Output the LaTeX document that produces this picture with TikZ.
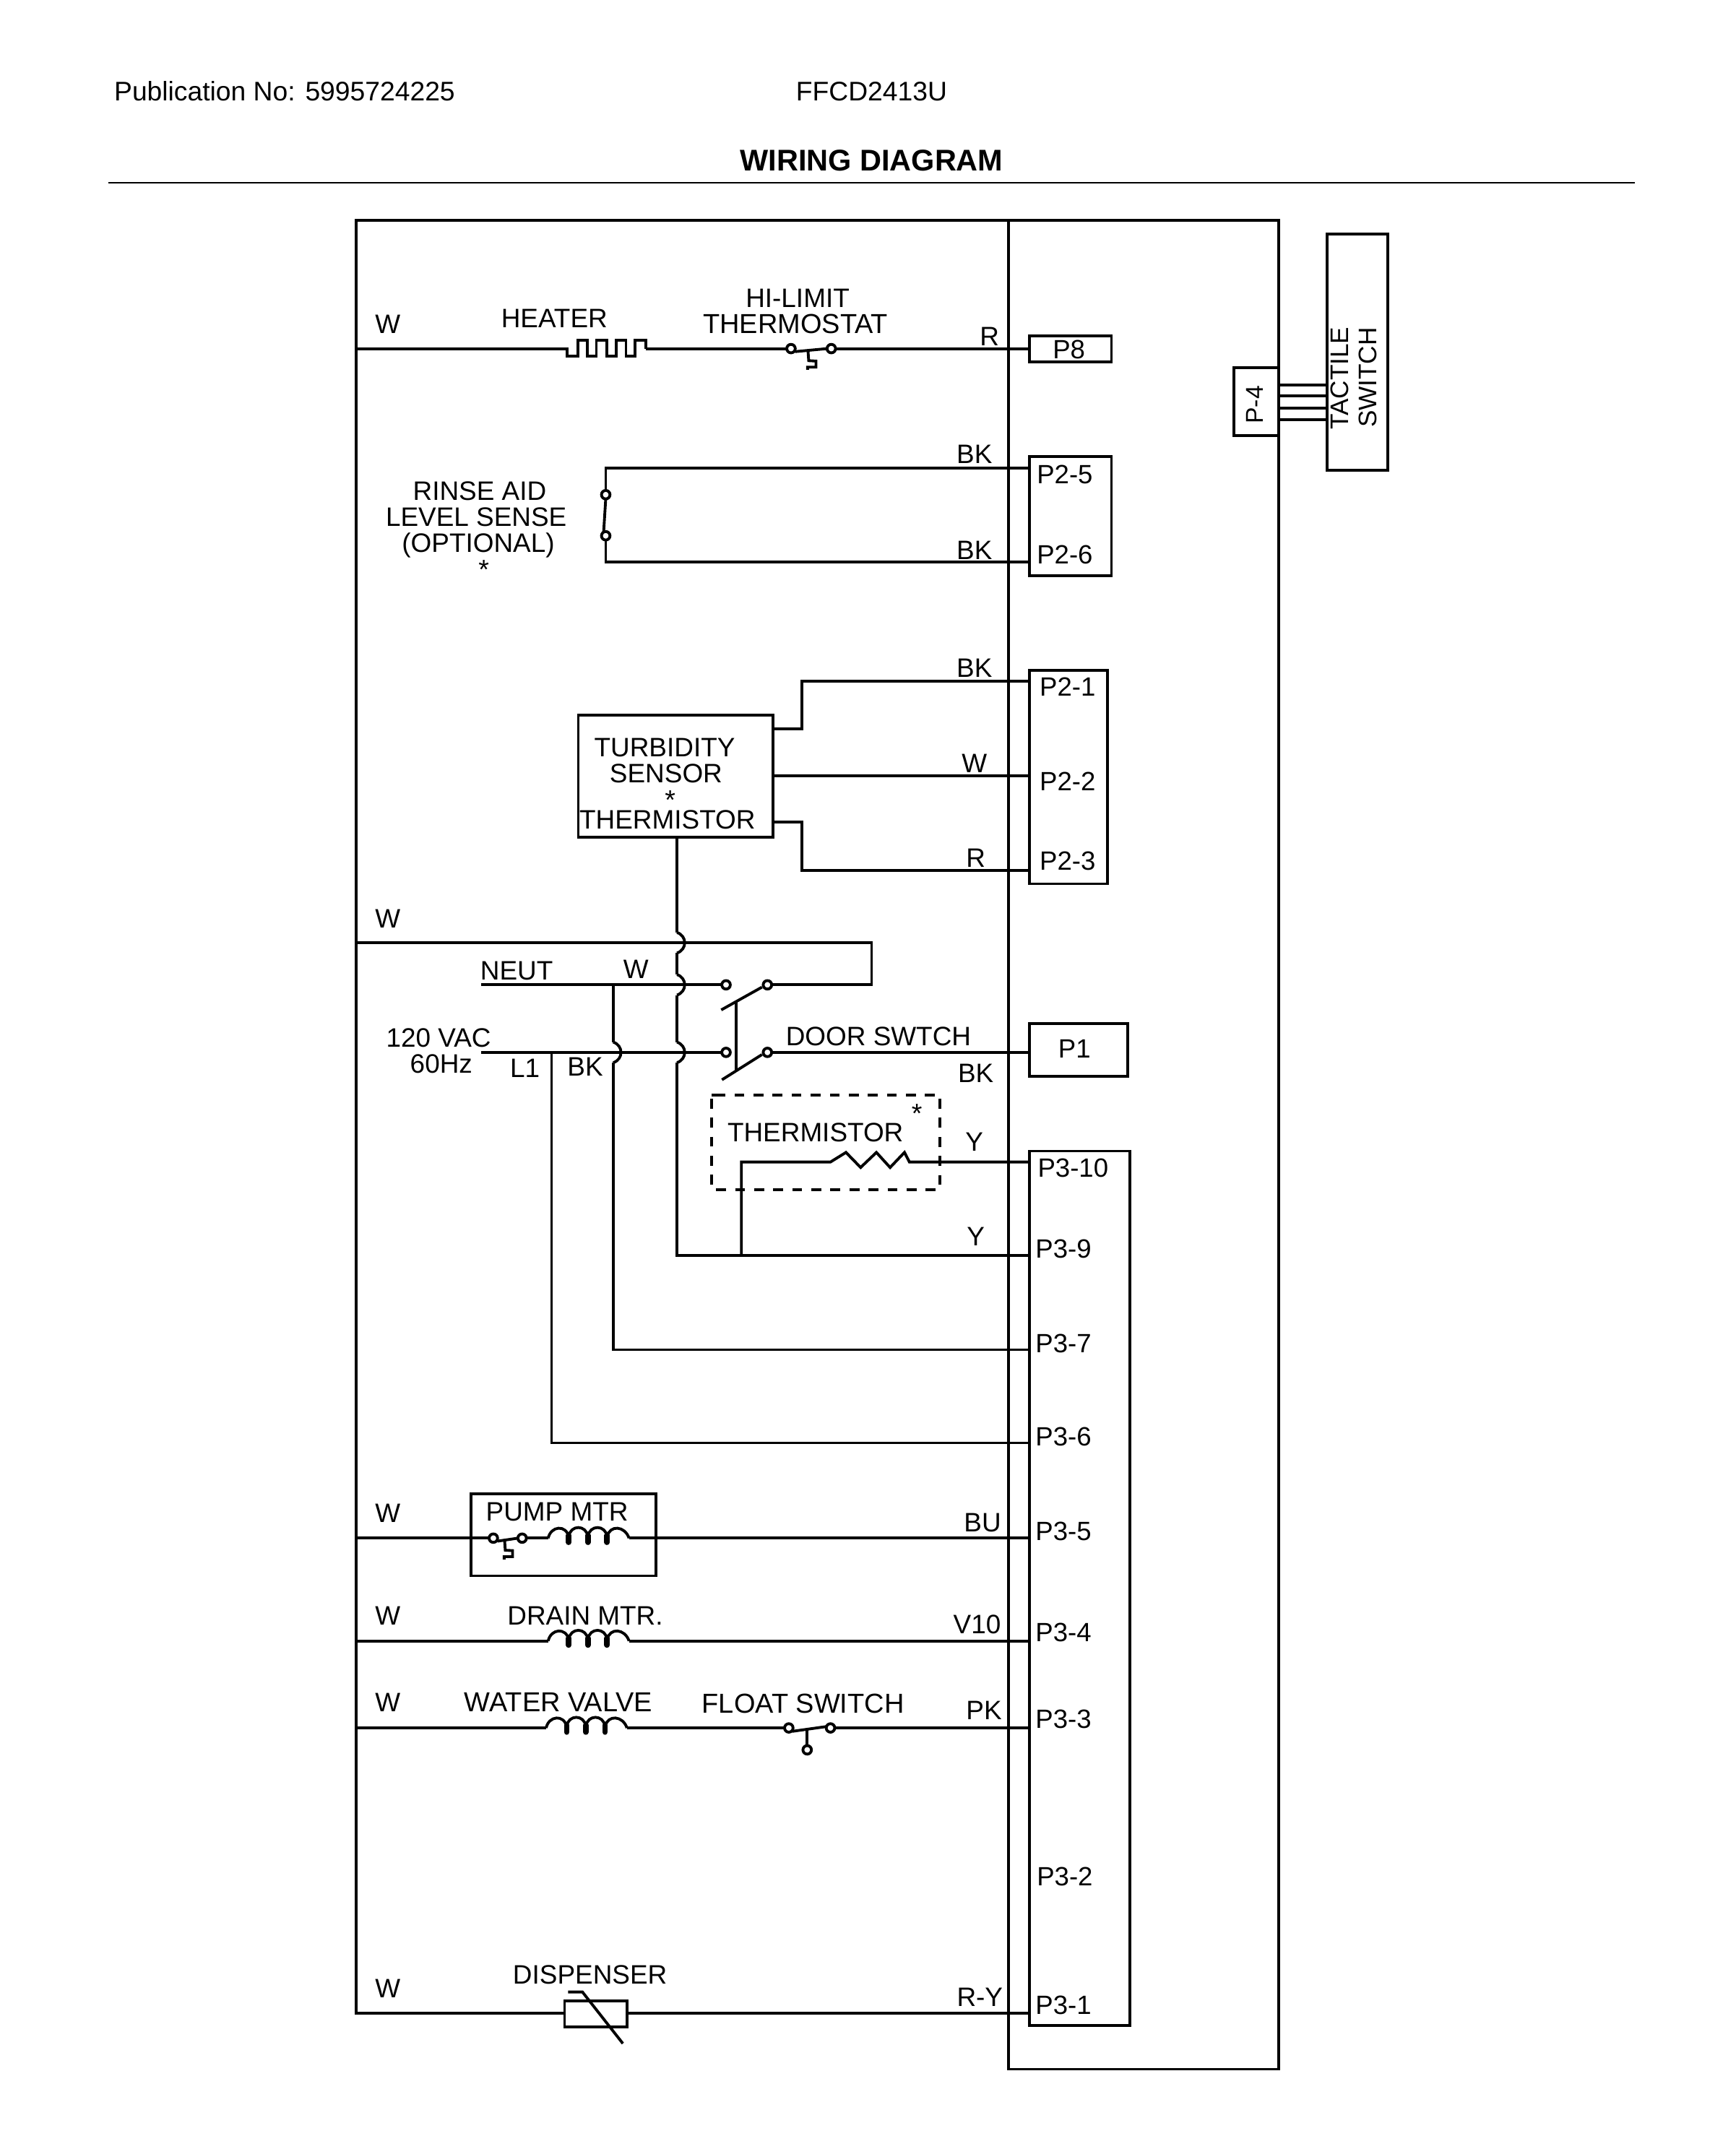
\documentclass[tikz,border=0pt]{standalone}
\usepackage{fontspec}
\setmainfont{Liberation Sans}
\usetikzlibrary{fit,calc}
\tikzset{
  wire/.style={line width=1.1pt},
  box/.style={draw,line width=1.1pt,inner sep=0pt,outer sep=0pt,fit={#1}},
  lbl/.style={inner sep=0pt,font=\fontsize{10.5}{12}\selectfont,text height=7.6pt,text depth=0pt},
  lblw/.style={lbl,font=\fontsize{10.8}{12}\selectfont},
  pin/.style={lbl,font=\fontsize{10.4}{12}\selectfont},
  star/.style={inner sep=0pt,font=\fontsize{10.7}{12}\selectfont,text height=3pt,text depth=0pt},
  term/.style={draw,fill=white,line width=1.1pt},
  pics/coil/.style={code={
    \coordinate (-a) at (0,0);
    \coordinate (-b) at (59,0);
    \draw[wire] (0,0) .. controls (2,-9) and (13,-10) .. (15,-1)
      .. controls (16,-10) and (28,-10) .. (29,-1)
      .. controls (30,-10) and (42,-10) .. (43,-1)
      .. controls (45,-10) and (56,-9) .. (59,0);
    \foreach \lx in {15,29,43}
      \draw[line width=2.2pt,line cap=round] (\lx,-2) -- (\lx,3);
  }},
  pics/tstat/.style={code={ % #1 gap between the two terminals
    \coordinate (-a) at (-3.3,0);
    \coordinate (-b) at (#1+3.3,0);
    \draw[wire] (3,2.2) -- (#1-3,0);
    \draw[wire] (#1/2-2.3,1.6) -- ++(0.5,7.2) -- ++(5.3,0.3) -- ++(0,4.4) -- ++(-6.1,0) -- ++(0,2);
    \draw[term] (0,0) circle[radius=3.1];
    \draw[term] (#1,0) circle[radius=3.1];
  }},
  pics/hop/.style={code={
    \coordinate (-a) at (0,-7.5);
    \coordinate (-b) at (0,7.5);
    \draw[wire] (0,-7.5) .. controls (7.5,-5) and (7.5,5) .. (0,7.5);
  }}
}
\begin{document}
\begin{tikzpicture}[x=0.01897cm,y=-0.01897cm]
\useasboundingbox (0,0) rectangle (1266.7,1568.3);

% header
\draw[line width=0.5pt] (79,133.4) -- (1193,133.4);
\node[lbl,anchor=west,font=\fontsize{10.6}{12}\selectfont] (pub) at (83,66.5) {Publication No: 5995724225};
\node[lbl,font=\fontsize{10.6}{12}\selectfont] (model) at (636,66.5) {FFCD2413U};
\node[lbl,font=\fontsize{11.8}{14}\bfseries\selectfont,text height=8.4pt] (title) at (636,117) {WIRING DIAGRAM};

% outer frame
\node[box={(736,161)(933,1510)}] (ctrl) {};
\coordinate (rail) at (260,161);
\draw[wire,line cap=rect] (ctrl.north west) -- (rail) -- (260,1469);

% connector blocks
\node[box={(751,245)(811,264)}] (p8) {};
\node[box={(751,333)(811,420)}] (p25) {};
\node[box={(751,489)(808,645)}] (p21) {};
\node[box={(751,747)(823,785.5)}] (p1) {};
\node[box={(751,840)(824.5,1478)}] (p3) {};
\node[box={(968.5,171)(1012.5,343)}] (tact) {};
\draw[wire] (933,268.5) -- (900.5,268.5) -- (900.5,318) -- (933,318);

% pins
\foreach \n/\y in {8/254.4,a5/341.5,a6/410,a1/497,a2/566,a3/635,d/768,t10/848,t9/916,t7/985,t6/1053,t5/1122.5,t4/1197.5,t3/1261,t1/1469}
  \coordinate (pin\n) at (751,\y);
\foreach \y in {280.8,289,298,306.3}
  \draw[wire] (933,\y) -- (968.5,\y);

% heater line
\coordinate (ht) at (413.8,254.4);
\coordinate (hte) at (471.4,254.4);
\draw[wire] (rail |- pin8) -- (ht) -- (413.8,260) -- (421.6,260) -- (421.6,248.1) -- (428.7,248.1) -- (428.7,260) -- (435.2,260)
  -- (435.2,248.1) -- (442.7,248.1) -- (442.7,260) -- (449.8,260) -- (449.8,248.1) -- (456.8,248.1) -- (456.8,260) -- (463.5,260)
  -- (463.5,248.1) -- (471.4,248.1) -- (hte);
\pic (hl) at (577.2,254.4) {tstat=29.4};
\draw[wire] (hte) -- (hl-a);
\draw[wire] (hl-b) -- (pin8);

% rinse aid
\coordinate (ra) at (442,341.5);
\coordinate (rb) at (442,410);
\draw[wire] (pina5) -- (ra) -- (442,358);
\draw[wire] (pina6) -- (rb) -- (442,394);
\draw[wire] (442,364) -- (440.5,388);
\draw[term] (442,361) circle[radius=3.1];
\draw[term] (442,391) circle[radius=3.1];

% turbidity sensor
\node[box={(422,522)(564,611)}] (turb) {};
\coordinate (tk) at (585,532);
\coordinate (tr) at (585,600);
\draw[wire] (turb.east |- tk) -- (tk) -- (tk |- pina1) -- (pina1);
\draw[wire] (turb.east |- pina2) -- (pina2);
\draw[wire] (turb.east |- tr) -- (tr) -- (tr |- pina3) -- (pina3);

% neutral, line and door switch
\coordinate (cr) at (494,688);
\coordinate (back) at (636,688);
\coordinate (nl) at (351,718.7);
\coordinate (ll) at (351,768);
\pic (h1) at (494,688) {hop};
\pic (h2) at (494,718.7) {hop};
\pic (h3) at (494,768) {hop};
\pic (h4) at (447.5,768) {hop};
\draw[wire] (turb.south -| cr) -- (h1-a);
\draw[wire] (h1-b) -- (h2-a);
\draw[wire] (h2-b) -- (h3-a);
\draw[wire] (h3-b) -- (cr |- pint9) -- (pint9);
\draw[wire] (rail |- back) -- (back) -- (636,718.7) -- (563,718.7);
\draw[wire] (nl) -- (526.7,718.7);
\draw[wire] (ll) -- (526.7,768);
\draw[wire] (563,768) -- (pind);
\draw[wire] (447.5,718.7) -- (h4-a);
\draw[wire] (h4-b) -- (447.5,985) -- (pint7);
\draw[wire] (402.5,768) -- (402.5,1053) -- (pint6);
\draw[wire] (556,720.4) -- (526.3,737);
\draw[wire] (556,769.6) -- (526.8,788);
\draw[wire] (537.2,731) -- (537.2,781);
\draw[term] (529.8,718.7) circle[radius=3.1];
\draw[term] (560,718.7) circle[radius=3.1];
\draw[term] (529.8,768) circle[radius=3.1];
\draw[term] (560,768) circle[radius=3.1];

% thermistor
\draw[line width=1.1pt,dash pattern=on 3.9pt off 3.6pt,dash phase=6pt] (519.3,799) rectangle (686,868);
\draw[line width=1.1pt] (519.3,799) -- (525.5,799);
\draw[wire] (541,916) -- (541,848) -- (606,848) -- (617.3,841) -- (628,852) -- (639.5,841) -- (649.5,852) -- (660,841) -- (663.6,848) -- (pint10);

% pump motor
\node[box={(343.5,1090)(478.5,1150)}] (pump) {};
\pic (pt) at (360,1122.5) {tstat=21};
\pic (pc) at (400,1122.5) {coil};
\draw[wire] (rail |- pint5) -- (pt-a);
\draw[wire] (pt-b) -- (pc-a);
\draw[wire] (pc-b) -- (pint5);

% drain motor
\pic (dc) at (400,1197.5) {coil};
\draw[wire] (rail |- pint4) -- (dc-a);
\draw[wire] (dc-b) -- (pint4);

% water valve and float switch
\pic (wc) at (398.5,1261) {coil};
\coordinate (fa) at (572.5,1261);
\coordinate (fb) at (609.5,1261);
\draw[wire] (rail |- pint3) -- (wc-a);
\draw[wire] (wc-b) -- (fa);
\draw[wire] (fb) -- (pint3);
\draw[wire] (578,1263.5) -- (603,1260);
\draw[wire] (589,1262) -- (589,1274);
\draw[term] (575.6,1261) circle[radius=3.1];
\draw[term] (606,1261) circle[radius=3.1];
\draw[term] (589,1277) circle[radius=3.1];

% dispenser
\node[box={(412,1460)(457.5,1479)}] (disp) {};
\draw[wire] (rail |- pint1) -- (disp.west |- pint1);
\draw[wire] (disp.east |- pint1) -- (pint1);
\draw[wire] (414.5,1453.7) -- (425,1453.7) -- (454.5,1491.3);

% text
\foreach \x/\y/\t [count=\i] in {
  283/236/W,404.5/232/HEATER,582/217/HI-LIMIT,722/245/R,
  711/331/BK,711/401/BK,
  350/358/RINSE AID,347.5/377/LEVEL SENSE,349/396/(OPTIONAL),
  711/487/BK,711/557/W,712/626/R,
  485/545/TURBIDITY,486/564/SENSOR,487/598/THERMISTOR,
  283/670/W,377/708/NEUT,464/707/W,320/757/120 VAC,322/776/60Hz,383/779/L1,427/778/BK,
  641/756/DOOR SWTCH,712/783/BK,
  595/826/THERMISTOR,711/833/Y,712/902/Y,
  283/1104/W,406.5/1103/PUMP MTR,717/1111/BU,
  283/1179/W,427/1179/DRAIN MTR.,713/1185/V10,
  283/1242/W,718/1248/PK,
  283/1451/W,430.5/1441/DISPENSER,715/1457/R-Y}
  \node[lbl] (lb\i) at (\x,\y) {\t};
\node[lblw] (lbts) at (580.5,236) {THERMOSTAT};
\node[lblw] (lbwv) at (407.5,1242) {WATER VALVE};
\node[lblw] (lbfs) at (586,1243) {FLOAT SWITCH};
\foreach \x/\y/\t [count=\i] in {
  780/254.5/P8,777/346/P2-5,777/404.5/P2-6,779/501/P2-1,779/570/P2-2,779/628/P2-3,784/765/P1,
  783/852/P3-10,776/911/P3-9,776/980/P3-7,776/1048/P3-6,776/1117/P3-5,776/1191/P3-4,
  776/1254/P3-3,777/1369/P3-2,776/1463/P3-1}
  \node[pin] (pn\i) at (\x,\y) {\t};
\node[star] (star1) at (353,413) {\raisebox{-3.6pt}{*}};
\node[star] (star2) at (489,581) {\raisebox{-3.6pt}{*}};
\node[star] (star3) at (669,810) {\raisebox{-3.6pt}{*}};
\node[lbl,rotate=90,font=\fontsize{9.6}{12}\selectfont] (pfour) at (914.7,295.4) {P-4};
\node[lbl,rotate=90,font=\fontsize{10}{12}\selectfont] (tlbl) at (977,276) {TACTILE};
\node[lbl,rotate=90,font=\fontsize{10}{12}\selectfont] (slbl) at (997.4,275.5) {SWITCH};
\end{tikzpicture}
\end{document}
